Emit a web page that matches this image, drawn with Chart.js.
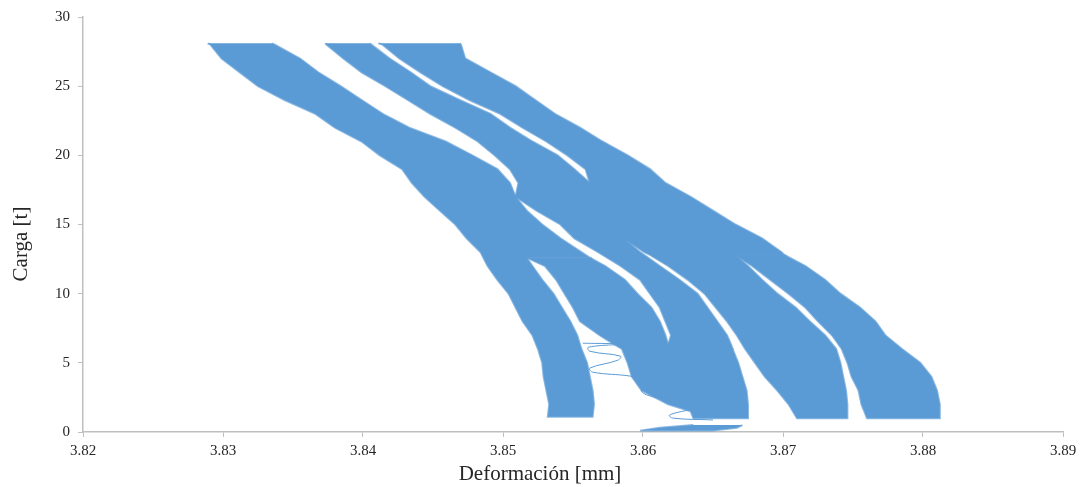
<!DOCTYPE html>
<html>
<head>
<meta charset="utf-8">
<script src="https://cdn.jsdelivr.net/npm/chart.js@4.4.1/dist/chart.umd.min.js"></script>
<style>
  html, body { margin: 0; padding: 0; background: #fff; }
  #wrap { width: 1083px; height: 487px; }
</style>
</head>
<body>
<div id="wrap"><canvas id="chart"></canvas></div>
<script>
// axis ticks and titles
const xTicks = [3.82, 3.83, 3.84, 3.85, 3.86, 3.87, 3.88, 3.89];
const yTicks = [0, 5, 10, 15, 20, 25, 30];
const xTitle = 'Deformación [mm]';
const yTitle = 'Carga [t]';

// band A (left-most, full height)
const loadA  = [28.1, 28, 27, 26, 25, 24, 23, 22, 21, 20, 19, 18, 17, 16, 15, 14, 13, 12.6, 12.6, 12, 11, 10, 9, 8, 7, 6, 5, 4, 3, 2, 1.1];
const leftA  = [3.8289, 3.8291, 3.8299, 3.8312, 3.8325, 3.8344, 3.8366, 3.8380, 3.8399, 3.8412, 3.8428, 3.8435, 3.8444, 3.8455, 3.8466, 3.8474, 3.8484, 3.8486, 3.8486, 3.8489, 3.8496, 3.8504, 3.8509, 3.8514, 3.8521, 3.8525, 3.8528, 3.8529, 3.8531, 3.8533, 3.8532];
const rightA = [3.8335, 3.8337, 3.8355, 3.8368, 3.8384, 3.8399, 3.8414, 3.8433, 3.8459, 3.8478, 3.8496, 3.8505, 3.8509, 3.8517, 3.8528, 3.8541, 3.8556, 3.8562, 3.8517, 3.8521, 3.8528, 3.8536, 3.8542, 3.8548, 3.8553, 3.8556, 3.8560, 3.8562, 3.8564, 3.8565, 3.8564];

// band A2 (splits off A below 12.6 t)
const loadA2  = [12.6, 12, 11, 10, 9, 8, 7, 6.3, 6, 5, 4, 3, 2, 1.5, 1.0];
const leftA2  = [3.8517, 3.8530, 3.8538, 3.8544, 3.8550, 3.8555, 3.8569, 3.8580, 3.8585, 3.8589, 3.8592, 3.8599, 3.8618, 3.8634, 3.8636];
const rightA2 = [3.8562, 3.8573, 3.8587, 3.8596, 3.8606, 3.8612, 3.8616, 3.8618, 3.8664, 3.8668, 3.8671, 3.8674, 3.8675, 3.8675, 3.8675];

// band B
const loadB  = [28.1, 28, 27, 26, 25, 24, 23, 22, 21, 20, 19, 18, 17, 16, 15, 14, 13, 12, 11, 10, 9, 8, 7, 6.3, 6];
const leftB  = [3.8373, 3.8374, 3.8386, 3.8399, 3.8416, 3.8432, 3.8448, 3.8466, 3.8482, 3.8494, 3.8505, 3.8511, 3.8509, 3.8524, 3.8541, 3.8551, 3.8568, 3.8584, 3.8598, 3.8605, 3.8612, 3.8616, 3.8620, 3.8618, 3.8618];
const rightB = [3.8405, 3.8406, 3.8419, 3.8434, 3.8448, 3.8469, 3.8491, 3.8505, 3.8521, 3.8539, 3.8551, 3.8562, 3.8569, 3.8575, 3.8580, 3.8586, 3.8598, 3.8612, 3.8626, 3.8639, 3.8646, 3.8653, 3.8660, 3.8663, 3.8664];

// band C
const loadC  = [28.1, 28, 27, 26, 25, 24, 23, 22, 21, 20, 19, 18, 17, 16, 15, 14, 13, 12.8, 12.8, 12, 11, 10, 9, 8, 7, 6, 5, 4, 3, 2, 1];
const leftC  = [3.8411, 3.8414, 3.8426, 3.8441, 3.8457, 3.8476, 3.8498, 3.8514, 3.8531, 3.8546, 3.8559, 3.8562, 3.8569, 3.8575, 3.8580, 3.8586, 3.8601, 3.8605, 3.8605, 3.8618, 3.8632, 3.8644, 3.8652, 3.8660, 3.8667, 3.8673, 3.8680, 3.8687, 3.8696, 3.8704, 3.8710];
const rightC = [3.8469, 3.8470, 3.8473, 3.8491, 3.8509, 3.8523, 3.8537, 3.8555, 3.8571, 3.8589, 3.8605, 3.8616, 3.8634, 3.8650, 3.8666, 3.8685, 3.8699, 3.8701, 3.8666, 3.8675, 3.8685, 3.8696, 3.8709, 3.8719, 3.8730, 3.8738, 3.8741, 3.8743, 3.8745, 3.8746, 3.8746];

// band D (right-most, lower half)
const loadD  = [12.8, 12, 11, 10, 9, 8, 7, 6, 5, 4, 3, 2, 1];
const leftD  = [3.8666, 3.8678, 3.8691, 3.8704, 3.8716, 3.8725, 3.8735, 3.8742, 3.8746, 3.8749, 3.8754, 3.8756, 3.8760];
const rightD = [3.8701, 3.8716, 3.8730, 3.8741, 3.8755, 3.8766, 3.8773, 3.8785, 3.8798, 3.8806, 3.8810, 3.8812, 3.8812];

// near-zero return strip
const loadZ  = [0.5, 0.3, 0.1];
const leftZ  = [3.8636, 3.8612, 3.8598];
const rightZ = [3.8671, 3.8667, 3.8650];

// thin unloading trace between A and A2
const spiralX = [3.8557, 3.8584, 3.8561, 3.8562, 3.8584, 3.8582, 3.8562, 3.8564, 3.8591, 3.8610, 3.8599, 3.8603, 3.8636, 3.8619, 3.8621, 3.8650];
const spiralY = [6.42, 6.35, 6.13, 5.84, 5.48, 5.19, 4.62, 4.33, 4.04, 3.61, 3.03, 2.67, 1.80, 1.23, 1.01, 0.87];

const blue = '#5b9bd5';
const axisGray = '#bfbfbf';
const textColor = '#262626';
const serif = '"Liberation Serif", "Times New Roman", serif';

function band(loads, left, right) {
  const pts = loads.map((y, i) => ({ x: left[i], y: y }));
  for (let i = loads.length - 1; i >= 0; i--) pts.push({ x: right[i], y: loads[i] });
  return pts;
}

const bandSet = (data) => ({
  data: data, showLine: true, fill: 'shape', tension: 0,
  backgroundColor: blue, borderColor: 'rgba(91,155,213,0.7)', borderWidth: 2, pointRadius: 0
});

const datasets = [
  bandSet(band(loadA, leftA, rightA)),
  bandSet(band(loadA2, leftA2, rightA2)),
  bandSet(band(loadB, leftB, rightB)),
  bandSet(band(loadC, leftC, rightC)),
  bandSet(band(loadD, leftD, rightD)),
  bandSet(band(loadZ, leftZ, rightZ)),
  {
    data: spiralX.map((x, i) => ({ x: x, y: spiralY[i] })),
    showLine: true, fill: false, tension: 0.4,
    borderColor: blue, borderWidth: 1, pointRadius: 0
  }
];

// axis titles placed like the original (off-centre)
const axisTitles = {
  id: 'axisTitles',
  afterDraw(chart) {
    const ctx = chart.ctx;
    ctx.save();
    ctx.fillStyle = textColor;
    ctx.font = '21px ' + serif;
    ctx.textAlign = 'center';
    ctx.textBaseline = 'middle';
    ctx.fillText(xTitle, 540, 474);
    ctx.translate(21, 244);
    ctx.rotate(-Math.PI / 2);
    ctx.fillText(yTitle, 0, 0);
    ctx.restore();
  }
};

new Chart(document.getElementById('chart'), {
  type: 'scatter',
  data: { datasets },
  plugins: [axisTitles],
  options: {
    responsive: true, maintainAspectRatio: false, animation: false,
    layout: { padding: { left: 0, right: 20, top: 16, bottom: 0 } },
    plugins: { legend: { display: false }, tooltip: { enabled: false } },
    scales: {
      x: {
        type: 'linear', min: 3.82, max: 3.89,
        afterBuildTicks: s => { s.ticks = xTicks.map(v => ({ value: v })); },
        afterFit: s => { s.height = 55; },
        grid: { drawOnChartArea: false, drawTicks: true, tickLength: 5, color: axisGray },
        border: { color: axisGray, width: 1.5 },
        ticks: { color: textColor, font: { family: serif, size: 15 }, padding: 5, callback: v => v.toFixed(2) }
      },
      y: {
        type: 'linear', min: 0, max: 30,
        afterBuildTicks: s => { s.ticks = yTicks.map(v => ({ value: v })); },
        afterFit: s => { s.width = 83; },
        grid: { drawOnChartArea: false, drawTicks: true, tickLength: 5, color: axisGray },
        border: { color: axisGray, width: 1.5 },
        ticks: { color: textColor, font: { family: serif, size: 15 }, padding: 8 }
      }
    }
  }
});
</script>
</body>
</html>
